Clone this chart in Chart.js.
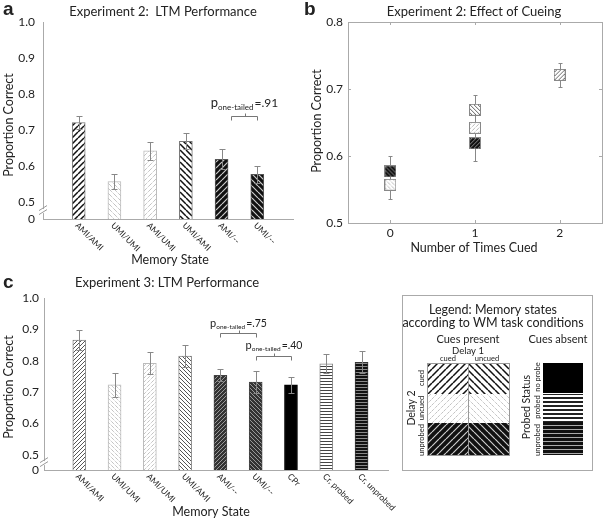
<!DOCTYPE html>
<html>
<head>
<meta charset="utf-8">
<script src="https://cdn.jsdelivr.net/npm/chart.js@4.4.1/dist/chart.umd.min.js"></script>
<style>
  body { margin: 0; background: #fff; width: 609px; height: 520px; position: relative; overflow: hidden; }
  canvas { position: absolute; }
</style>
</head>
<body>
<canvas id="chartA" width="300" height="268" style="left:0;top:0"></canvas>
<canvas id="chartB" width="309" height="268" style="left:300px;top:0"></canvas>
<canvas id="chartC" width="400" height="250" style="left:0;top:270px"></canvas>
<canvas id="legendBox" width="219" height="190" style="left:390px;top:285px"></canvas>
<script>
// --- data ---
const exp2States = ["AMI/AMI", "UMI/UMI", "AMI/UMI", "UMI/AMI", "AMI/--", "UMI/--"];
const exp2Mean = [0.721, 0.557, 0.642, 0.669, 0.619, 0.577];
const exp2Err = [0.018, 0.021, 0.025, 0.022, 0.027, 0.023];
const exp2TimesCued = [2, 0, 1, 1, 1, 0];

const exp3States = ["AMI/AMI", "UMI/UMI", "AMI/UMI", "UMI/AMI", "AMI/--", "UMI/--", "CPr", "Cr, probed", "Cr, unprobed"];
const exp3Mean = [0.866, 0.723, 0.792, 0.815, 0.754, 0.732, 0.723, 0.790, 0.795];
const exp3Err = [0.031, 0.039, 0.035, 0.036, 0.019, 0.035, 0.025, 0.030, 0.035];

const ltmTicks = [0.5, 0.6, 0.7, 0.8, 0.9, 1.0];
const cueTicks = [0.5, 0.6, 0.7, 0.8];
const cueCountTicks = [0, 1, 2];

const FONT = "Lato, 'Liberation Sans', sans-serif";
const AXIS = "#aaa";
Chart.defaults.font.family = FONT;
Chart.defaults.color = "#222";
Chart.defaults.animation = false;
Chart.defaults.plugins.legend.display = false;
Chart.defaults.plugins.tooltip.enabled = false;

const noGrid = { display: false, drawTicks: false, offset: false };

// hatch tile: bg, line colour, direction, tile size, line width, dotted
function tile(bg, fg, dir, size, lw, dotted) {
  const c = document.createElement("canvas");
  c.width = size; c.height = size;
  const g = c.getContext("2d");
  g.fillStyle = bg; g.fillRect(0, 0, size, size);
  if (!fg) return c;
  if (dir === "-") {
    g.fillStyle = fg; g.fillRect(0, 0, size, lw);
    return c;
  }
  g.strokeStyle = fg; g.lineWidth = lw;
  if (dotted) g.setLineDash([1, 1]);
  g.beginPath();
  for (let k = -1; k <= 1; k++) {
    if (dir === "/") { g.moveTo(k * size, size); g.lineTo(k * size + size, 0); }
    else { g.moveTo(k * size, 0); g.lineTo(k * size + size, size); }
  }
  g.stroke();
  return c;
}

const styleA = [
  ["#fff", "#111", "/", 6, 1.5, false, "#777"],
  ["#fff", "#aaa", "\\", 5, 1, true, "#bbb"],
  ["#fff", "#aaa", "/", 5, 1, true, "#bbb"],
  ["#fff", "#111", "\\", 6, 1.5, false, "#777"],
  ["#111", "#ccc", "/", 6, 1.2, false, "#555"],
  ["#111", "#ccc", "\\", 6, 1.2, false, "#555"]
];
const styleB = [
  ["#fff", "#666", "/", 4, 1, false],
  ["#fff", "#999", "\\", 4, 1, true],
  ["#fff", "#999", "/", 4, 1, true],
  ["#fff", "#666", "\\", 4, 1, false],
  ["#111", "#888", "/", 4, 1, false],
  ["#111", "#888", "\\", 4, 1, false]
];
const styleC = [
  ["#fff", "#555", "/", 4, 1, false, "#888"],
  ["#fff", "#aaa", "\\", 4, 1, true, "#bbb"],
  ["#fff", "#aaa", "/", 4, 1, true, "#bbb"],
  ["#fff", "#555", "\\", 4, 1, false, "#888"],
  ["#333", "#999", "/", 4, 1, false, "#444"],
  ["#333", "#999", "\\", 4, 1, false, "#444"],
  ["#000", null, "", 4, 0, false, "#000"],
  ["#fff", "#444", "-", 3, 1, false, "#888"],
  ["#111", "#888", "-", 3, 1, false, "#333"]
];

function squareIcon(s) {
  const c = document.createElement("canvas");
  c.width = 12; c.height = 12;
  const g = c.getContext("2d");
  g.fillStyle = g.createPattern(tile(s[0], s[1], s[2], s[3], s[4], s[5]), "repeat");
  g.fillRect(0, 0, 12, 12);
  g.strokeStyle = "#888"; g.lineWidth = 1;
  g.strokeRect(0.5, 0.5, 11, 11);
  return c;
}

function text(ctx, str, x, y, font, opts = {}) {
  ctx.save();
  ctx.font = font;
  ctx.fillStyle = opts.color || "#222";
  ctx.textAlign = opts.align || "center";
  ctx.textBaseline = opts.baseline || "middle";
  ctx.translate(x, y);
  if (opts.rotate) ctx.rotate(opts.rotate);
  ctx.fillText(str, 0, 0);
  ctx.restore();
}

function errorBars(chart, xs, means, errs, cap) {
  const { ctx, scales: { x, y } } = chart;
  ctx.save();
  ctx.strokeStyle = "#888"; ctx.lineWidth = 1;
  means.forEach((m, i) => {
    const px = Math.round(x.getPixelForValue(xs[i])) + 0.5;
    const top = Math.round(y.getPixelForValue(m + errs[i])) + 0.5;
    const bot = Math.round(y.getPixelForValue(m - errs[i])) + 0.5;
    ctx.beginPath();
    ctx.moveTo(px, top); ctx.lineTo(px, bot);
    ctx.moveTo(px - cap, top); ctx.lineTo(px + cap, top);
    ctx.moveTo(px - cap, bot); ctx.lineTo(px + cap, bot);
    ctx.stroke();
  });
  ctx.restore();
}

function slantLabels(chart, labels, font) {
  const { ctx, scales: { x }, chartArea } = chart;
  labels.forEach((t, i) => {
    const px = x.getPixelForValue(i + 1);
    text(ctx, t, px - 2, chartArea.bottom + 5, font, { align: "left", rotate: Math.PI / 4 });
  });
}

function axisBreak(chart, yVal) {
  const { ctx, chartArea, scales: { y } } = chart;
  const x0 = chartArea.left, yy = y.getPixelForValue(yVal);
  ctx.save();
  ctx.fillStyle = "#fff";
  ctx.fillRect(x0 - 2, yy - 2, 4, 4);
  ctx.strokeStyle = "#999"; ctx.lineWidth = 1;
  ctx.beginPath();
  ctx.moveTo(x0 - 4, yy - 0.5); ctx.lineTo(x0 + 4, yy - 5.5);
  ctx.moveTo(x0 - 4, yy + 3.5); ctx.lineTo(x0 + 4, yy - 1.5);
  ctx.stroke();
  ctx.restore();
}

function bracket(chart, x1, x2, yVal, pValue, sizes) {
  const { ctx, scales: { x, y } } = chart;
  const l = Math.round(x.getPixelForValue(x1)) + 0.5;
  const r = Math.round(x.getPixelForValue(x2)) + 0.5;
  const yy = Math.round(y.getPixelForValue(yVal)) + 0.5;
  const mid = Math.round((l + r) / 2) + 0.5;
  ctx.save();
  ctx.strokeStyle = "#777"; ctx.lineWidth = 1;
  ctx.beginPath();
  ctx.moveTo(l, yy + 4); ctx.lineTo(l, yy); ctx.lineTo(r, yy); ctx.lineTo(r, yy + 4);
  ctx.moveTo(mid, yy); ctx.lineTo(mid, yy - 3);
  ctx.stroke();
  // p_one-tailed = value
  const base = yy - sizes.gap;
  const fp = sizes.p + "px " + FONT, fs = sizes.sub + "px " + FONT, fv = sizes.v + "px " + FONT;
  ctx.font = fp; const wp = ctx.measureText("p").width;
  ctx.font = fs; const ws = ctx.measureText("one-tailed").width;
  ctx.font = fv; const wv = ctx.measureText("=" + pValue).width;
  let sx = (l + r) / 2 - (wp + ws + wv + 1) / 2;
  ctx.fillStyle = "#222"; ctx.textBaseline = "alphabetic"; ctx.textAlign = "left";
  ctx.font = fp; ctx.fillText("p", sx, base);
  ctx.font = fs; ctx.fillText("one-tailed", sx + wp, base + sizes.sub * 0.45);
  ctx.font = fv; ctx.fillText("=" + pValue, sx + wp + ws + 1, base);
  ctx.restore();
}

// ---------- panel a ----------
const A_MIN = 0.453;
const ctxA = document.getElementById("chartA").getContext("2d");
new Chart(ctxA, {
  type: "bar",
  data: {
    datasets: [{
      data: exp2Mean.map((v, i) => ({ x: i + 1, y: v })),
      backgroundColor: styleA.map(s => ctxA.createPattern(tile(s[0], s[1], s[2], s[3], s[4], s[5]), "repeat")),
      borderColor: styleA.map(s => s[6]),
      borderWidth: 1,
      barThickness: 13,
      base: A_MIN
    }]
  },
  options: {
    responsive: false,
    layout: { padding: { top: 22, right: 7 } },
    scales: {
      x: {
        type: "linear", min: 0, max: 7, offset: false,
        ticks: { display: false },
        grid: noGrid,
        border: { color: AXIS },
        afterFit: s => { s.height = 49; }
      },
      y: {
        min: A_MIN, max: 1,
        afterBuildTicks: s => { s.ticks = [A_MIN, ...ltmTicks].map(v => ({ value: v })); },
        ticks: { callback: v => (v === A_MIN ? "0" : v.toFixed(1)), font: { size: 12 }, padding: 8 },
        grid: noGrid,
        border: { color: AXIS },
        afterFit: s => { s.width = 43; }
      }
    }
  },
  plugins: [{
    id: "decorA",
    afterDraw(chart) {
      const ctx = chart.ctx;
      errorBars(chart, exp2Mean.map((v, i) => i + 1), exp2Mean, exp2Err, 3);
      axisBreak(chart, 0.475);
      slantLabels(chart, exp2States, "8.5px " + FONT);
      bracket(chart, 5.25, 6.0, 0.739, ".91", { p: 13, sub: 8, v: 12, gap: 10 });
      text(ctx, "a", 3, 10, "bold 19px Arial", { align: "left" });
      text(ctx, "Experiment 2:  LTM Performance", 163, 12, "13px " + FONT);
      text(ctx, "Proportion Correct", 9, 125, "12.5px " + FONT, { rotate: -Math.PI / 2 });
      text(ctx, "Memory State", 170, 260, "12.5px " + FONT);
    }
  }]
});

// ---------- panel b ----------
const ctxB = document.getElementById("chartB").getContext("2d");
const iconsB = styleB.map(squareIcon);
new Chart(ctxB, {
  type: "scatter",
  data: {
    datasets: exp2States.map((s, i) => ({
      label: s,
      data: [{ x: exp2TimesCued[i], y: exp2Mean[i] }],
      pointStyle: iconsB[i],
      pointRadius: 6
    }))
  },
  options: {
    responsive: false,
    layout: { padding: { top: 22, right: 5 } },
    scales: {
      x: {
        type: "linear", min: -0.5, max: 2.5,
        afterBuildTicks: s => { s.ticks = cueCountTicks.map(v => ({ value: v })); },
        ticks: { font: { size: 12 }, padding: 3 },
        grid: noGrid,
        border: { color: AXIS },
        afterFit: s => { s.height = 45; }
      },
      y: {
        min: 0.5, max: 0.8,
        afterBuildTicks: s => { s.ticks = cueTicks.map(v => ({ value: v })); },
        ticks: { callback: v => v.toFixed(1), font: { size: 12 }, padding: 5 },
        grid: noGrid,
        border: { color: AXIS },
        afterFit: s => { s.width = 48; }
      }
    }
  },
  plugins: [{
    id: "decorB",
    beforeDatasetsDraw(chart) {
      errorBars(chart, exp2TimesCued, exp2Mean, exp2Err, 2);
    },
    afterDraw(chart) {
      const { ctx, chartArea: a, scales: { x, y } } = chart;
      ctx.save();
      ctx.strokeStyle = AXIS; ctx.lineWidth = 1;
      ctx.strokeRect(Math.round(a.left) + 0.5, Math.round(a.top) + 0.5, Math.round(a.right - a.left), Math.round(a.bottom - a.top));
      ctx.beginPath();
      cueTicks.forEach(v => {
        const py = Math.round(y.getPixelForValue(v)) + 0.5;
        ctx.moveTo(a.left, py); ctx.lineTo(a.left + 3, py);
        ctx.moveTo(a.right, py); ctx.lineTo(a.right - 3, py);
      });
      cueCountTicks.forEach(v => {
        const px = Math.round(x.getPixelForValue(v)) + 0.5;
        ctx.moveTo(px, a.bottom); ctx.lineTo(px, a.bottom - 3);
        ctx.moveTo(px, a.top); ctx.lineTo(px, a.top + 3);
      });
      ctx.stroke();
      ctx.restore();
      text(ctx, "b", 4, 10, "bold 19px Arial", { align: "left" });
      text(ctx, "Experiment 2: Effect of Cueing", 174, 12, "13px " + FONT);
      text(ctx, "Proportion Correct", 17, 121, "12.5px " + FONT, { rotate: -Math.PI / 2 });
      text(ctx, "Number of Times Cued", 174, 248, "12.5px " + FONT);
    }
  }]
});

// ---------- panel c ----------
const C_MIN = 0.452;
const ctxC = document.getElementById("chartC").getContext("2d");
new Chart(ctxC, {
  type: "bar",
  data: {
    datasets: [{
      data: exp3Mean.map((v, i) => ({ x: i + 1, y: v })),
      backgroundColor: styleC.map(s => ctxC.createPattern(tile(s[0], s[1], s[2], s[3], s[4], s[5]), "repeat")),
      borderColor: styleC.map(s => s[6]),
      borderWidth: 1,
      barThickness: 13,
      base: C_MIN
    }]
  },
  options: {
    responsive: false,
    layout: { padding: { top: 28, right: 12 } },
    scales: {
      x: {
        type: "linear", min: 0, max: 9.75, offset: false,
        ticks: { display: false },
        grid: noGrid,
        border: { color: AXIS },
        afterFit: s => { s.height = 50; }
      },
      y: {
        min: C_MIN, max: 1,
        afterBuildTicks: s => { s.ticks = [C_MIN, ...ltmTicks].map(v => ({ value: v })); },
        ticks: { callback: v => (v === C_MIN ? "0" : v.toFixed(1)), font: { size: 12 }, padding: 5 },
        grid: noGrid,
        border: { color: AXIS },
        afterFit: s => { s.width = 44; }
      }
    }
  },
  plugins: [{
    id: "decorC",
    afterDraw(chart) {
      const ctx = chart.ctx;
      errorBars(chart, exp3Mean.map((v, i) => i + 1), exp3Mean, exp3Err, 3);
      axisBreak(chart, 0.474);
      slantLabels(chart, exp3States, "8.5px " + FONT);
      bracket(chart, 5, 6, 0.888, ".75", { p: 11, sub: 6.5, v: 10.5, gap: 7 });
      bracket(chart, 6, 7, 0.815, ".40", { p: 11, sub: 6.5, v: 10.5, gap: 8 });
      text(ctx, "c", 3, 13, "bold 19px Arial", { align: "left" });
      text(ctx, "Experiment 3: LTM Performance", 167, 13, "13px " + FONT);
      text(ctx, "Proportion Correct", 9, 117, "12.5px " + FONT, { rotate: -Math.PI / 2 });
      text(ctx, "Memory State", 211, 242, "12.5px " + FONT);
    }
  }]
});

// ---------- legend key ----------
(function drawKey() {
  const ctx = document.getElementById("legendBox").getContext("2d");
  ctx.strokeStyle = "#aaa"; ctx.lineWidth = 1;
  ctx.strokeRect(12.5, 10.5, 190, 175);
  text(ctx, "Legend: Memory states", 103, 25, "12.5px " + FONT);
  text(ctx, "according to WM task conditions", 103, 38, "12.5px " + FONT);
  text(ctx, "Cues present", 78, 54, "11px " + FONT);
  text(ctx, "Cues absent", 168, 54, "11px " + FONT);
  text(ctx, "Delay 1", 78, 66, "9.5px " + FONT);
  text(ctx, "cued", 58, 74, "7.5px " + FONT);
  text(ctx, "uncued", 97, 74, "7.5px " + FONT);

  const rows = [[78, 109], [109, 138], [138, 170]];
  const cells = [
    [["#fff", "#111", "/", 7, 1.5, false], ["#fff", "#111", "\\", 7, 1.5, false]],
    [["#fff", "#aaa", "/", 6, 1, true], ["#fff", "#aaa", "\\", 6, 1, true]],
    [["#111", "#ccc", "/", 7, 1.2, false], ["#111", "#ccc", "\\", 7, 1.2, false]]
  ];
  rows.forEach((r, ri) => {
    [[37, 78], [78, 119]].forEach((c, ci) => {
      const s = cells[ri][ci];
      ctx.fillStyle = ctx.createPattern(tile(s[0], s[1], s[2], s[3], s[4], s[5]), "repeat");
      ctx.fillRect(c[0], r[0], c[1] - c[0], r[1] - r[0]);
    });
  });
  ctx.strokeStyle = "#999";
  ctx.strokeRect(37.5, 78.5, 82, 92);
  ctx.beginPath(); ctx.moveTo(78.5, 78); ctx.lineTo(78.5, 170); ctx.stroke();
  const rot = -Math.PI / 2;
  text(ctx, "cued", 32, 93, "7.5px " + FONT, { rotate: rot });
  text(ctx, "uncued", 32, 123, "7.5px " + FONT, { rotate: rot });
  text(ctx, "unprobed", 32, 155, "7.5px " + FONT, { rotate: rot });
  text(ctx, "Delay 2", 22, 123, "10.5px " + FONT, { rotate: rot });

  ctx.fillStyle = "#000"; ctx.fillRect(153, 78, 40, 30);
  ctx.fillStyle = ctx.createPattern(tile("#fff", "#222", "-", 4, 2, false), "repeat");
  ctx.fillRect(153, 109, 40, 28);
  ctx.fillStyle = ctx.createPattern(tile("#111", "#aaa", "-", 4, 1, false), "repeat");
  ctx.fillRect(153, 137, 40, 33);
  text(ctx, "no probe", 148, 92, "7.5px " + FONT, { rotate: rot });
  text(ctx, "probed", 148, 122, "7.5px " + FONT, { rotate: rot });
  text(ctx, "unprobed", 148, 155, "7.5px " + FONT, { rotate: rot });
  text(ctx, "Probed Status", 137, 122, "10.5px " + FONT, { rotate: rot });
})();
</script>
</body>
</html>
